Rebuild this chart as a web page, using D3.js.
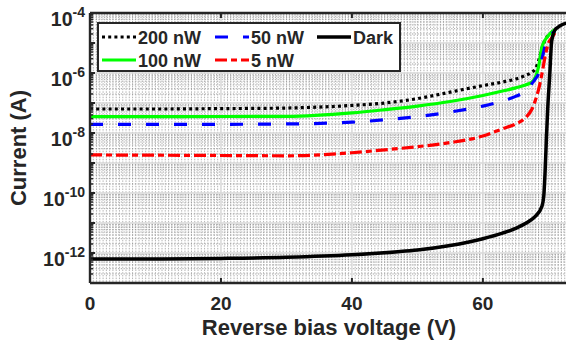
<!DOCTYPE html>
<html>
<head>
<meta charset="utf-8">
<script src="https://cdn.jsdelivr.net/npm/d3@7"></script>
<style>
  html, body { margin: 0; padding: 0; background: #fff; }
  svg { display: block; }
  text { font-family: "Liberation Sans", Arial, sans-serif; font-weight: bold; fill: #262626; }
</style>
</head>
<body>
<div id="chart"></div>
<script>
// reverse bias sweep for the illuminated devices (V)
const voltage = [0, 10, 20, 30, 40, 45, 50, 55, 60, 63, 65, 66.5, 67.5, 68, 68.5, 69, 69.5, 70, 70.5, 71]

// current (A) per illumination power
const i200nW = [6.3e-8, 6.3e-8, 6.5e-8, 6.8e-8, 8.3e-8, 1.0e-7, 1.4e-7, 2.3e-7, 3.8e-7, 5.0e-7,
  6.3e-7, 8.3e-7, 1.07e-6, 1.35e-6, 2.5e-6, 6.3e-6, 1.26e-5, 1.78e-5, 2.3e-5, 2.8e-5]
const i100nW = [3.5e-8, 3.5e-8, 3.55e-8, 3.6e-8, 4.7e-8, 6.0e-8, 7.9e-8, 1.12e-7, 1.78e-7, 2.5e-7,
  3.2e-7, 4.0e-7, 5.0e-7, 7.1e-7, 1.6e-6, 7.1e-6, 1.26e-5, 1.78e-5, 2.3e-5, 2.8e-5]
const i50nW = [1.95e-8, 1.95e-8, 1.95e-8, 2.0e-8, 2.3e-8, 2.75e-8, 3.5e-8, 5.0e-8, 7.9e-8, 1.17e-7,
  1.66e-7, 2.5e-7, 4.5e-7, 6.3e-7, 9.5e-7, 2.8e-6, 7.6e-6, 1.4e-5, 2.0e-5, 2.5e-5]
const i5nW = [1.86e-9, 1.82e-9, 1.78e-9, 1.74e-9, 2.2e-9, 2.75e-9, 3.5e-9, 4.8e-9, 7.9e-9, 1.38e-8,
  2.0e-8, 3.2e-8, 6.3e-8, 1.2e-7, 2.8e-7, 8.9e-7, 3.5e-6, 9.8e-6, 1.45e-5, 2.2e-5]

// dark current has its own sweep
const voltageDark = [0, 10, 20, 30, 40, 47, 50, 55, 60, 63, 65, 67, 68, 69, 69.3, 69.5, 69.7, 69.9,
  70.2, 70.5, 71, 71.5, 72, 73]
const iDark = [6.3e-13, 6.3e-13, 6.6e-13, 7.2e-13, 8.7e-13, 1.1e-12, 1.26e-12, 1.78e-12, 3.0e-12,
  4.6e-12, 6.6e-12, 1.12e-11, 1.66e-11, 3.5e-11, 7.9e-11, 5.0e-10, 6.3e-9, 6.3e-8, 7.9e-7, 1.12e-5,
  2.7e-5, 3.4e-5, 4.0e-5, 4.7e-5]

const seriesNames = ['200 nW', '100 nW', '50 nW', '5 nW', 'Dark']
const xTicks = [0, 20, 40, 60]
const yTickExp = [-4, -6, -8, -10, -12]

const series = [
  { name: seriesNames[0], v: voltage, i: i200nW, color: '#000000', dash: '3,3.2', width: 3.2 },
  { name: seriesNames[1], v: voltage, i: i100nW, color: '#00ff00', dash: null, width: 3.2 },
  { name: seriesNames[2], v: voltage, i: i50nW, color: '#0000ff', dash: '13,15', width: 3.2 },
  { name: seriesNames[3], v: voltage, i: i5nW, color: '#ff0000', dash: '12,4,6,4', width: 3.2 },
  { name: seriesNames[4], v: voltageDark, i: iDark, color: '#000000', dash: null, width: 3.5 },
]

const W = 566
const H = 345
const margin = { top: 13, right: -2, bottom: 62, left: 90 }
const width = W - margin.left - margin.right
const height = H - margin.top - margin.bottom

const svg = d3.select('#chart').append('svg').attr('width', W).attr('height', H)
const g = svg.append('g').attr('transform', `translate(${margin.left},${margin.top})`)

const x = d3.scaleLinear().domain([0, 73]).range([0, width])
const y = d3.scaleLog().domain([1e-13, 1e-4]).range([height, 0])

// grid: minor
const minorY = []
for (let e = -13; e < -4; e++) for (let m = 2; m <= 9; m++) minorY.push(m * Math.pow(10, e))
const minorX = d3.range(0.5, 73, 0.5).filter(v => v % 20 !== 0)

g.append('g')
  .selectAll('line')
  .data(minorX)
  .join('line')
  .attr('x1', d => x(d)).attr('x2', d => x(d))
  .attr('y1', 0).attr('y2', height)
  .attr('stroke', '#8c8c8c')
  .attr('stroke-width', 1)
  .attr('stroke-dasharray', '1.5,1.2')
  .attr('opacity', 0.65)

g.append('g')
  .selectAll('line')
  .data(minorY)
  .join('line')
  .attr('x1', 0).attr('x2', width)
  .attr('y1', d => y(d)).attr('y2', d => y(d))
  .attr('stroke', '#808080')
  .attr('stroke-width', 1)
  .attr('stroke-dasharray', '1.2,1.6')
  .attr('opacity', 0.7)

// grid: major
const decades = d3.range(-13, -3).map(e => Math.pow(10, e))
g.append('g')
  .selectAll('line')
  .data(decades)
  .join('line')
  .attr('x1', 0).attr('x2', width)
  .attr('y1', d => y(d)).attr('y2', d => y(d))
  .attr('stroke', '#d8d8d8')
  .attr('stroke-width', 1.5)

g.append('g')
  .selectAll('line')
  .data(xTicks.slice(1))
  .join('line')
  .attr('x1', d => x(d)).attr('x2', d => x(d))
  .attr('y1', 0).attr('y2', height)
  .attr('stroke', '#d8d8d8')
  .attr('stroke-width', 1.5)

// curves
g.append('clipPath').attr('id', 'clip')
  .append('rect').attr('width', width).attr('height', height)

const line = d3.line()
  .x(d => x(d[0]))
  .y(d => y(d[1]))
  .curve(d3.curveMonotoneX)

series.forEach(s => {
  g.append('path')
    .datum(s.v.map((v, k) => [v, s.i[k]]))
    .attr('clip-path', 'url(#clip)')
    .attr('fill', 'none')
    .attr('stroke', s.color)
    .attr('stroke-width', s.width)
    .attr('stroke-dasharray', s.dash)
    .attr('d', line)
})

// axes
const axisColor = '#262626'
g.append('line').attr('x1', 0).attr('x2', 0).attr('y1', 0).attr('y2', height)
  .attr('stroke', axisColor).attr('stroke-width', 2.4)
g.append('line').attr('x1', 0).attr('x2', width).attr('y1', height).attr('y2', height)
  .attr('stroke', axisColor).attr('stroke-width', 2.4)
g.append('line').attr('x1', 0).attr('x2', width).attr('y1', 0).attr('y2', 0)
  .attr('stroke', axisColor).attr('stroke-width', 2.4)

// ticks (inward)
decades.forEach(d => {
  g.append('line').attr('x1', 0).attr('x2', 5).attr('y1', y(d)).attr('y2', y(d))
    .attr('stroke', axisColor).attr('stroke-width', 2)
})
minorY.forEach(d => {
  g.append('line').attr('x1', 0).attr('x2', 3).attr('y1', y(d)).attr('y2', y(d))
    .attr('stroke', axisColor).attr('stroke-width', 1.5)
})
xTicks.forEach(d => {
  g.append('line').attr('x1', x(d)).attr('x2', x(d)).attr('y1', height).attr('y2', height - 5)
    .attr('stroke', axisColor).attr('stroke-width', 2)
  g.append('line').attr('x1', x(d)).attr('x2', x(d)).attr('y1', 0).attr('y2', 5)
    .attr('stroke', axisColor).attr('stroke-width', 2)
})

// tick labels
g.selectAll('.xlab')
  .data(xTicks)
  .join('text')
  .attr('class', 'xlab')
  .attr('x', d => x(d))
  .attr('y', height + 27)
  .attr('text-anchor', 'middle')
  .style('font-size', '19px')
  .text(d => d)

yTickExp.forEach(e => {
  const t = g.append('text')
    .attr('x', -5)
    .attr('y', y(Math.pow(10, e)) + 13)
    .attr('text-anchor', 'end')
    .style('font-size', '19.5px')
  t.append('tspan').text('10')
  t.append('tspan').attr('dy', -9).style('font-size', '14px').text(e)
})

// axis titles
svg.append('text')
  .attr('x', margin.left + width / 2)
  .attr('y', 335)
  .attr('text-anchor', 'middle')
  .style('font-size', '22px')
  .text('Reverse bias voltage (V)')

svg.append('text')
  .attr('transform', `translate(26,${margin.top + height / 2}) rotate(-90)`)
  .attr('text-anchor', 'middle')
  .style('font-size', '22px')
  .text('Current (A)')

// legend, two rows filled column by column
const legend = svg.append('g')
legend.append('rect')
  .attr('x', 98).attr('y', 23).attr('width', 302).attr('height', 48)
  .attr('fill', '#fff')
  .attr('stroke', axisColor)
  .attr('stroke-width', 2)

const colX = [102, 215, 317]
const rowY = [37, 60]
series.forEach((s, k) => {
  const cx = colX[Math.floor(k / 2)]
  const cy = rowY[k % 2]
  legend.append('line')
    .attr('x1', cx).attr('x2', cx + 34)
    .attr('y1', cy).attr('y2', cy)
    .attr('stroke', s.color)
    .attr('stroke-width', s.width)
    .attr('stroke-dasharray', s.dash)
  legend.append('text')
    .attr('x', cx + 36)
    .attr('y', cy + 6.5)
    .style('font-size', '18px')
    .text(s.name)
})
</script>
</body>
</html>
